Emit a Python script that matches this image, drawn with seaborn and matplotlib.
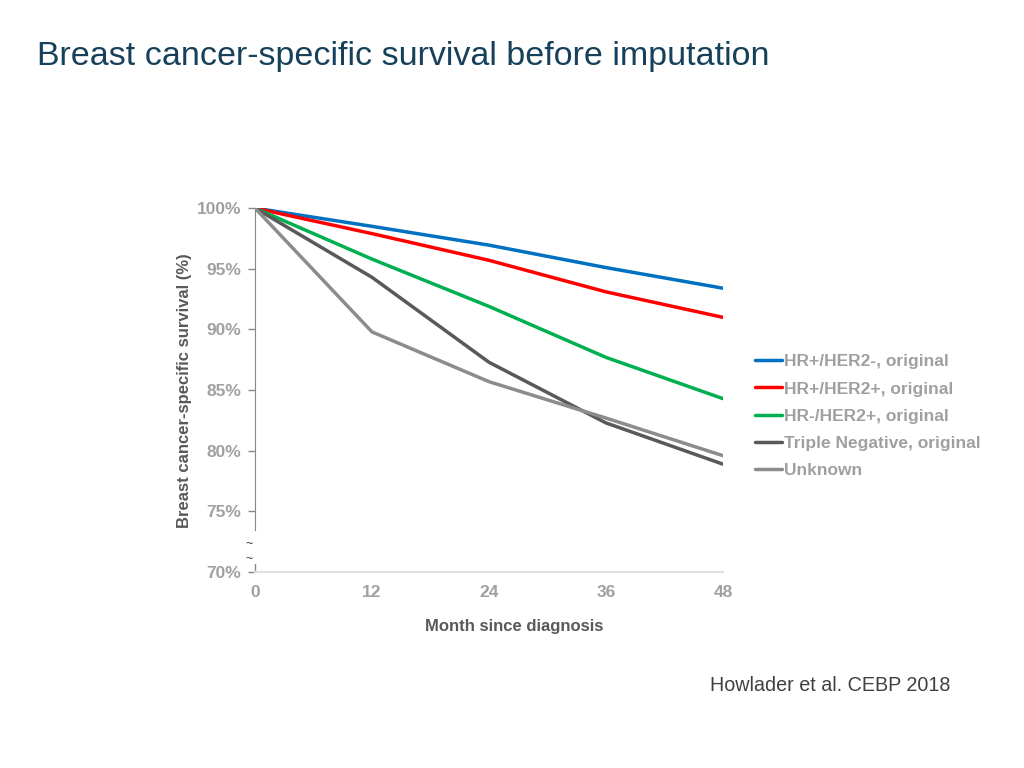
import numpy as np
import pandas as pd
import matplotlib
matplotlib.use("Agg")
import matplotlib.pyplot as plt
import seaborn as sns

sns.set_style("white")
plt.rcParams['font.family'] = ['Liberation Sans', 'DejaVu Sans']

months = [0, 12, 24, 36, 48]
hr_pos_her2_neg = [100, 98.5, 96.95, 95.1, 93.4]
hr_pos_her2_pos = [100, 97.9, 95.7, 93.1, 91.0]
hr_neg_her2_pos = [100, 95.8, 91.9, 87.7, 84.3]
triple_negative = [100, 94.3, 87.3, 82.3, 78.9]
unknown = [100, 89.8, 85.7, 82.7, 79.6]

groups = ["HR+/HER2-, original", "HR+/HER2+, original", "HR-/HER2+, original",
          "Triple Negative, original", "Unknown"]
colors = ["#0070C0", "#FF0000", "#00B050", "#595959", "#8C8C8C"]

df = pd.DataFrame({
    "month": months * 5,
    "survival": hr_pos_her2_neg + hr_pos_her2_pos + hr_neg_her2_pos + triple_negative + unknown,
    "group": [g for g in groups for _ in months],
})

fig = plt.figure(figsize=(10.24, 7.68), dpi=100)
ax = fig.add_axes([0.249, 0.255, 0.457, 0.474])

sns.lineplot(data=df, x="month", y="survival", hue="group", palette=colors,
             hue_order=groups, linewidth=2.5, ax=ax)

ax.set_xlim(0, 48)
ax.set_ylim(70, 100)
ax.set_xticks(months)
ax.set_yticks([70, 75, 80, 85, 90, 95, 100])
ax.set_yticklabels(["70%", "75%", "80%", "85%", "90%", "95%", "100%"])

tick_col = "#A0A0A0"
ax.tick_params(axis="y", length=5, width=1, color="#888888", labelsize=12.5,
               labelcolor=tick_col, pad=5, direction="out", left=True)
ax.tick_params(axis="x", length=0, labelsize=12.5, labelcolor=tick_col, pad=9)
for lab in ax.get_xticklabels() + ax.get_yticklabels():
    lab.set_fontweight("bold")

ax.set_xlabel("Month since diagnosis", fontsize=12, fontweight="bold", color="#595959")
ax.set_ylabel("Breast cancer-specific survival (%)", fontsize=12, fontweight="bold",
              color="#595959")
ax.xaxis.set_label_coords(0.554, -0.13)
ax.yaxis.set_label_coords(-0.135, 0.5)

for s in ["top", "right"]:
    ax.spines[s].set_visible(False)
ax.spines["bottom"].set_color("#E0E0E0")
ax.spines["bottom"].set_linewidth(1.5)
ax.spines["left"].set_color("#888888")
ax.spines["left"].set_bounds(73.5, 100)
ax.plot([0, 0], [70, 70.7], color="#888888", lw=1, clip_on=False)
ax.text(-0.6, 72.3, "~", ha="center", va="center", fontsize=9, color="#333333")
ax.text(-0.6, 71.1, "~", ha="center", va="center", fontsize=9, color="#333333")

leg = ax.legend(loc="center left", bbox_to_anchor=(0.722, 0.458), bbox_transform=fig.transFigure,
                frameon=False, handlelength=1.55, handletextpad=0.15, labelspacing=0.7,
                prop={"size": 12.5, "weight": "bold"})
for t in leg.get_texts():
    t.set_color("#A0A0A0")
for h in leg.get_lines():
    h.set_linewidth(2.5)

fig.text(0.036, 0.927, "Breast cancer-specific survival before imputation", fontsize=24.5,
         color="#17405A", va="center", ha="left")
fig.text(0.928, 0.108, "Howlader et al. CEBP 2018", fontsize=14.2, color="#404040",
         va="center", ha="right")

fig.savefig("out.png", dpi=100)
